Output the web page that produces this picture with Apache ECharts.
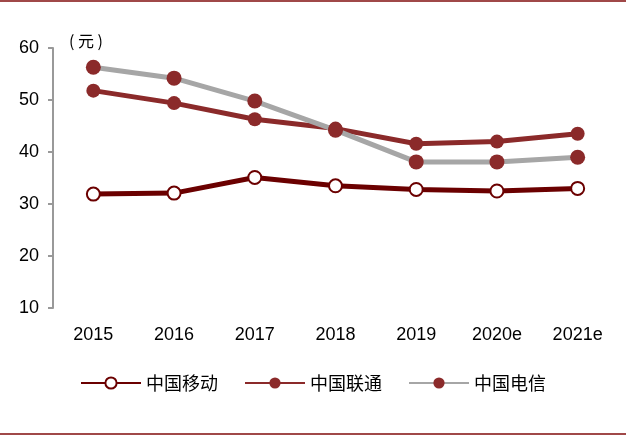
<!DOCTYPE html>
<html>
<head>
<meta charset="utf-8">
<script src="https://cdn.jsdelivr.net/npm/echarts@6/dist/echarts.min.js"></script>
<style>body{margin:0;}#chart{width:626px;height:437px;}
.ln{position:absolute;left:0;width:626px;height:2px;background:#a04848;}</style>
</head>
<body>
<div class="ln" style="top:0"></div>
<div id="chart"></div>
<div class="ln" style="top:433px"></div>
<script>
var years = ['2015','2016','2017','2018','2019','2020e','2021e'];
var mobile = [31.9, 32.1, 35.1, 33.5, 32.8, 32.5, 33.0];
var unicom = [51.8, 49.4, 46.3, 44.5, 41.6, 42.0, 43.5];
var telecom = [56.3, 54.2, 49.8, 44.2, 38.1, 38.1, 39.0];

var chart = echarts.init(document.getElementById('chart'));
var font = 'Noto Sans CJK SC';
chart.setOption({
  animation: false,
  textStyle: {fontFamily: font},
  grid: {left: 53, right: 8, top: 48, bottom: 129},
  title: {text: '( 元 )', left: 64, top: 28, textStyle: {fontSize: 16, fontWeight: 'normal', color: '#000', fontFamily: font}},
  legend: {
    bottom: 40, left: 'center', itemWidth: 60, itemHeight: 14, itemGap: 26,
    textStyle: {fontSize: 18, color: '#000', fontFamily: font},
    data: ['中国移动','中国联通','中国电信']
  },
  xAxis: {
    type: 'category', data: years, boundaryGap: true,
    axisLine: {show: false}, axisTick: {show: false},
    axisLabel: {fontSize: 18, color: '#000', margin: 18, fontFamily: 'Liberation Sans'}
  },
  yAxis: {
    type: 'value', min: 10, max: 60, interval: 10,
    axisLine: {show: true, lineStyle: {color: '#999', width: 2}},
    axisTick: {show: true, inside: false, length: 5, lineStyle: {color: '#999', width: 2}},
    splitLine: {show: false},
    axisLabel: {fontSize: 18, color: '#000', margin: 14, fontFamily: 'Liberation Sans'}
  },
  series: [
    {name: '中国移动', type: 'line', data: mobile, symbol: 'circle', symbolSize: 13,
     lineStyle: {color: '#6b0000', width: 5}, itemStyle: {color: '#fff', borderColor: '#6b0000', borderWidth: 2}},
    {name: '中国联通', type: 'line', data: unicom, symbol: 'circle', symbolSize: 14,
     lineStyle: {color: '#8b2a2a', width: 5}, itemStyle: {color: '#8b2a2a'}},
    {name: '中国电信', type: 'line', data: telecom, symbol: 'circle', symbolSize: 15,
     lineStyle: {color: '#a6a6a6', width: 5}, itemStyle: {color: '#8b2a2a'}}
  ]
});
</script>
</body>
</html>
